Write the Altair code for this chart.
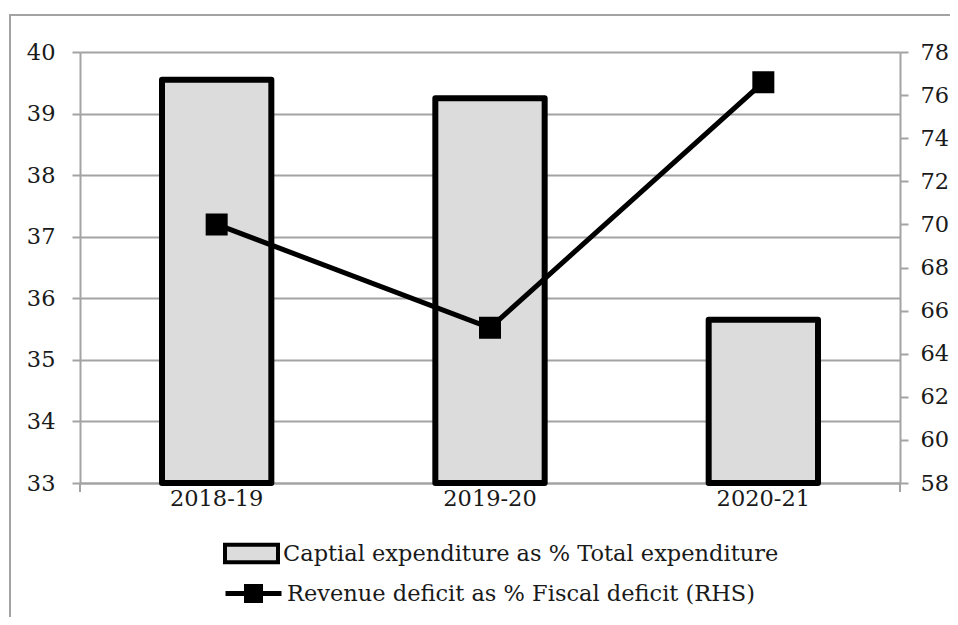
import altair as alt
import pandas as pd

years = ["2018-19", "2019-20", "2020-21"]
capex_share = [39.55, 39.25, 35.65]
revdef_share = [70.0, 65.2, 76.6]
left_ticks = [33, 34, 35, 36, 37, 38, 39, 40]
right_ticks = [58, 60, 62, 64, 66, 68, 70, 72, 74, 76, 78]
bar_label = "Captial expenditure as % Total expenditure"
line_label = "Revenue deficit as % Fiscal deficit (RHS)"

df = pd.DataFrame({
    "year": years,
    "capex": capex_share,
    "revdef": revdef_share,
    "s1": [bar_label] * 3,
    "s2": [line_label] * 3,
})

FONT = "DejaVu Serif"
FS = 22.5
TXT = "#1a1a1a"
GRID = "#a3a3a3"

x_enc = alt.X("year:N", sort=years, title=None,
              scale=alt.Scale(paddingInner=0.6, paddingOuter=0.3),
              axis=alt.Axis(labelAngle=0, labelFont=FONT, labelFontSize=FS,
                            labelColor=TXT, labelPadding=4, ticks=False, tickSize=0,
                            domainColor=GRID, domainWidth=2))

border = alt.Chart(pd.DataFrame({"a": [0]})).mark_rect(
    fill="transparent", stroke=GRID, strokeWidth=2
).encode(x=alt.value(-70), x2=alt.value(900), y=alt.value(-37), y2=alt.value(620))

edge_ticks = alt.Chart(pd.DataFrame({"p": [0, 820]})).mark_rule(
    stroke=GRID, strokeWidth=2
).encode(x=alt.X("p:Q", scale=None), y=alt.value(431), y2=alt.value(440))

bars = alt.Chart(df).mark_bar(stroke="black", strokeWidth=6, strokeJoin="round").encode(
    x=x_enc,
    y=alt.Y("capex:Q", title=None,
            scale=alt.Scale(domain=[33, 40], zero=False, nice=False),
            axis=alt.Axis(orient="left", values=left_ticks, grid=True, gridColor=GRID,
                          gridWidth=2, tickSize=8, tickWidth=2, tickColor=GRID,
                          domainColor=GRID, domainWidth=2, labelFont=FONT,
                          labelFontSize=FS, labelColor=TXT, labelPadding=17)),
    y2=alt.datum(33),
    fill=alt.Fill("s1:N", scale=alt.Scale(range=["#dcdcdc"]),
                  legend=alt.Legend(title=None, orient="none", legendX=143, legendY=473,
                                    symbolType="M-1,-0.33H1V0.33H-1Z", symbolSize=2809,
                                    symbolStrokeColor="black", symbolStrokeWidth=4,
                                    labelFont=FONT, labelFontSize=FS, labelColor=TXT,
                                    labelLimit=800, labelOffset=3, padding=0)),
)

line = alt.Chart(df).mark_line(
    strokeWidth=5,
    point=alt.OverlayMarkDef(shape="square", size=400, filled=True, color="black"),
).encode(
    x=alt.X("year:N", sort=years),
    y=alt.Y("revdef:Q", title=None,
            scale=alt.Scale(domain=[58, 78], zero=False, nice=False),
            axis=alt.Axis(orient="right", values=right_ticks, grid=False,
                          tickSize=8, tickWidth=2, tickColor=GRID,
                          domainColor=GRID, domainWidth=2, labelFont=FONT,
                          labelFontSize=FS, labelColor=TXT, labelPadding=12)),
    stroke=alt.Stroke("s2:N", scale=alt.Scale(range=["black"]),
                      legend=alt.Legend(title=None, orient="none", legendX=143, legendY=511,
                                        symbolType="M-1,0H1M-0.25,-0.25H0.25V0.25H-0.25Z",
                                        symbolSize=3136, symbolStrokeColor="black",
                                        symbolFillColor="black", symbolStrokeWidth=5,
                                        labelFont=FONT, labelFontSize=FS,
                                        labelColor=TXT, labelLimit=800,
                                        labelOffset=3, padding=0)),
)

chart = alt.layer(border, edge_ticks, bars, line).resolve_scale(
    y="independent", fill="independent", stroke="independent"
).properties(
    width=820, height=431,
    padding={"left": 72, "top": 44, "right": 50, "bottom": 134},
    autosize=alt.AutoSizeParams(type="none"),
    background="white",
).configure_view(stroke=None)

chart.save("out.html", embed_options={"renderer": "svg", "actions": False})
